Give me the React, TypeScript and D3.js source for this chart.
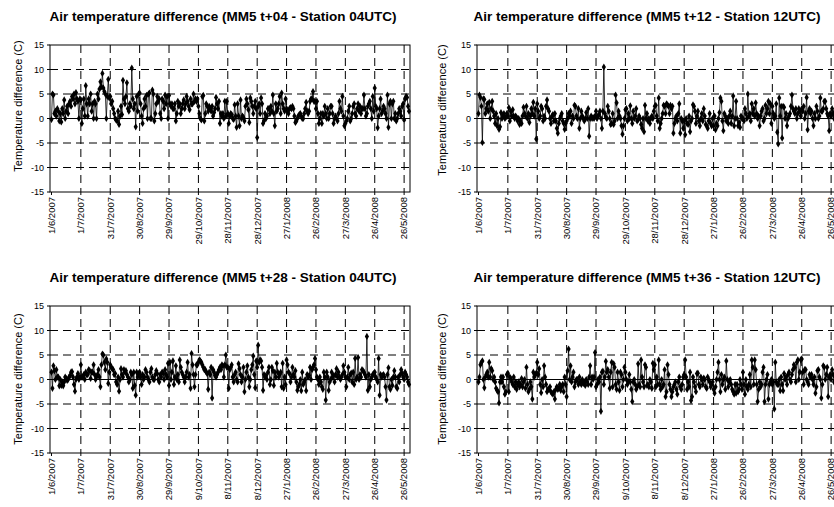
import React from "react";
import * as d3 from "d3";

// ---------- data (daily differences, degrees C) ----------
const seriesT04: number[] = [
  -0.2, 5, 4.8, 1, 1.5, 0.5, 2, 1.5, -0.5, 1, -0.7, 2, 1, 3.8, 0, 1.5, 2.5, 1, 3, 3.5, 2.5, 4.5, 4, 5, 3, 5.3, 4, 3.5, 0, 4,
  3.8, -1, 2, 4, 0.5, 6.7, 3, 0.5, 4, 3, 5, 1.5, 3, 0, 3.5, 3, 0, 5, 4, 6, 7.5, 6.5, 9.2, 6.2, 5.5, 5, 0, 4.5, 8, 4.2,
  4.5, 3, 3.5, 2, 1, 0, -0.3, -0.5, 1.5, -1.2, 0.5, 2.5, 0.8, 7.8, 4, 3, 4.5, 7.3, 2, 1.5, 3, 2.5, 10.3, 4, 2, 3, -1.7, 4.5, 1.5, 5,
  5.2, 3, 0.5, -1, 2, 4, 2.5, 4.7, 0, 5, 5.2, 0, 0, 5.8, 5, -0.5, 1, 3, 4.5, 3.5, 4, 1, 0, 4, 3.5, 2, 4.8, 3, 4.5, 0,
  4.7, 3, 2.5, 3, 2, 2, 3, -0.5, 1, 3.5, 2.5, 3, 1, 2, 3, 3.8, 2, 3, 4.5, 3.5, 2.5, 1.8, 4, 3, 3, 5, 3.5, 4, 3.5, 4,
  2.5, 1, 0, -0.3, 4.5, 4.7, -0.5, 1, 3, 2.5, 1.5, 2.5, 2, 1.5, 2.5, 0.5, 1.2, 2, 4.3, 3, 2, 3.5, -1, 1, 0.5, 1, 0, 3.5, 0.5, 3.5,
  1, -1, 0.5, 1, 0.8, 0, -0.2, 2.8, 0.5, -1.8, 3, 0.5, -1.5, 3.8, 0, 0.5, 0.2, -0.5, 2.5, 4, 3, 1.8, -0.8, 4.2, 3.5, 2.5, 1, 2.5, 3.5, 2,
  -3.9, 2.5, 3, 1, 4.2, 3, -1, -0.5, 1, 0, 0.5, 2, 2, 1, 2.5, 1.5, 4.8, 1, -1.5, 3, 1.5, 2, 3, 4.5, 1, 5.2, 3, 2, 1.5, 4,
  2, 1.5, 1, 2, 2.2, 2, 2.5, 2, 0.5, -0.8, -0.5, 0, 0.5, 0.8, 1, 0.5, 0, 0, 1, 2, 3.3, 1.5, 1, 1.5, 3.5, 4, 4, 5.5, 3.5, 3.5,
  2, 3.5, 1, -1, 0, 1, -1, 1, 0.5, 2.5, 1, 0, 2, 0, 1, 2.5, 2.5, 1, -1, 0, 0.5, 0, -0.5, 1, 3.5, 2, 1.5, 4.5, 0.5, -1.5,
  -1, -0.5, 0, 1.5, 2.5, -0.5, 0, 1, 2.5, 3, 1, 0.5, 2, 3, 1.5, 2.5, 1, 2, 2, 4.8, 2, 0.5, 1, 2.5, 3, 3.5, 2, 0, 4.5, 1.5,
  6.2, 2.5, 2, -1.9, 0.5, 2, 4, 1, 1.5, 2.5, 2, 1, 0, 4.8, -1.8, 3, 3.5, 0, 3, 3.5, 0, 1, -0.5, 0, 1, 2, 1.5, 0.5, 2.5, 3, -0.3, 4, 4.5, 4.3, 2.5, 1.5,
];

const seriesT12: number[] = [
  1, 4.8, 4.3, 2.5, -4.9, 4, 3.9, 1, 2, 3, 1.5, 3.3, 0, 2, 3.5, 1.5, 0.5, -1, 1, -1.5, 0, -2.2, -1.7, 1.2, 0, 0.5, 1, 0, 0.3, 1,
  0.5, 2.2, -0.5, 1.5, 0.5, 1.8, 0.5, 0, 0.5, 0.2, -0.5, 0, -1.2, -0.5, -1, 0.5, 2.3, 1, 0.5, 2.5, 0, 1, -0.8, 0.5, 2, 1, 3.3, 0.5, 2, -4.2,
  3, 1.5, 0, 0.5, 2.5, 2, -0.5, 0.5, 0, 2.5, 3.8, 2, 1.5, 0, -1, 0.5, 0.8, -0.5, 1, -0.5, -2, -3, -1, 0, 0.5, 1, -0.5, -1, -2.2, -1,
  -0.5, 0, 1, 0.5, 1.5, -1, 0.5, 0, 2.7, 2.5, 0.5, 0, 2, -2, 0, 1.5, 0.5, 0, -0.5, 0, 1.2, 0, 2, -3.6, 0, 0.5, 0, 0.2, 0, 0.5,
  1.5, 0, 0.5, 0.8, 1.5, 0, -2, 1.5, 10.5, 1, 0.3, 0, 2.5, 1.5, 0, -1.2, -1, 1, -1.2, -0.5, 4.8, 3.2, 0, 1.5, 0.5, 0, -1.5, -3.2, -1.5, 0,
  1.8, 2, -0.5, 1, 0, 2.6, 0, -1, 1.5, 0, 0.5, 2, -0.5, -0.2, 0.5, 0, -1.2, -2, 0, -2.7, 2.7, 0, 1, -0.5, 0, -1, 0, 0.5, 0, 1.5,
  2.5, 2.7, 0.5, -0.5, 4.2, -2, -1, 0, 1, 2.7, 2.5, 1, 3, 2.8, 2.5, 1, 2.7, 2, 2.5, -3, -1, 0, 0.5, -0.5, 1, 3, -3, 0, -0.5, -2,
  -0.5, -3.3, 0, -1, -1.2, 0.5, -2.7, -0.5, 0, 2.8, 2.5, 1.5, -1, 0.5, 1.5, -0.5, -1.5, 0, 1, -0.5, 2, 0.5, -1.2, -1.5, -2, -0.5, 1, -1, -1.5, 0,
  -1.5, 0.5, -2.3, -1, -1.5, 0, 1.2, 4.2, 3.5, -0.5, -2.5, 1, 0.5, -0.5, 0, -1, 0.5, 1.5, -1, 0.5, 4.6, -1.5, 0, 3.5, 0, -1.5, -0.8, -1.8, 0.5, 0,
  0, -0.5, 2, 1, 0, 5, 0.5, 1, -0.5, 3, 1, 2, 0.5, 3.2, 1, 0, 0.5, -1.5, 0.5, 1.5, 2, -0.5, 0, 2.7, 1, 2, 3.5, 1, 3, -1,
  2.5, 1, 0, 0.5, 3, -2.8, -5.2, 4.2, 0.5, 2.5, -4, 2.5, 2.3, 0, 1, -1.5, 0, 0.5, 1, 2.5, 4.8, 2, 1.5, 1, 2, 0, 1, 2, 1.5, 0.5,
  2, 1.5, 2.5, 0, 1, 4.3, -2.3, 1.5, 2, 1, 1.5, 0, -1.5, 1, 0, 2.5, 1.5, 0, 0.5, 4.2, 1.5, 1.5, 2, 3.5, 3.5, 2, 1, 0.5, -2.5, 1, 0.5, 2, 1, 0, 1.5, 0.5,
];

const seriesT28: number[] = [
  1.5, -1.8, 2.8, 1.8, 0, 2, 0.5, 0.5, -1.3, 0, -1.2, -0.5, -1.3, -0.5, 0.5, 0.2, -0.2, 0, 0.5, 0.8, 1.5, 1.6, 0.5, -1, -2.4, 0, 0.5, 1.2, 0, 0.5,
  3, 0.5, 0.5, 1, 0, 1.5, 1, 1, 2, 1.8, 0.2, 1.5, 1.5, 3, 1, 0, 0.5, 1, 2, 0.5, -1.5, 3, 5.2, 5, 3.5, 2, 4.2, 3.5, -0.8, 1.5,
  3, 2.5, 2.2, 2, 1, 1.2, -0.5, -1, 0.5, -2.4, 0, 2.2, 1, 0.5, 2, 1.5, 1.8, 1, 0.5, -0.5, 0, 1.5, 1, -1.8, 1.5, -1.2, -3.2, 1.5, 0.5, 1.2,
  1.5, 0.5, -1, 1, 0, 0.5, 2, 1.5, 0.5, 0, -0.5, 1.5, 2.2, 0.5, 0, 0, 1, 1.8, 1.2, 0, -0.5, 1, 0.5, 1.5, 1.3, 0, 2, 1, 0.5, 3.3,
  -1.2, 3.5, 0, 1.5, 3.8, -1, 0.5, 2.8, 0, 1, -0.5, 4, 2.5, 1.5, 1, 0.5, -0.5, 0.5, 1.5, 3.5, 0.5, 1, -1.8, 5.3, 3, 1, -1.5, 1, 3, 3,
  3.5, 4, 3.8, 3.5, 3, 2.5, 2, 2, 1.5, 1.2, -2, 1.5, 1, 2.5, -3.8, 2, 1.5, 0.8, 0.5, 1, 1.5, 2, 2.5, 2, 3, 2.8, 0.5, 3, 5, 2.5,
  2.5, -1.8, 2, 2.5, 3, 0.5, -0.5, 1, 1.5, 0, -0.5, 3.2, 2.2, 1, -0.5, 0.5, 2.5, -2.5, 0, 1.5, 2.8, 0.5, -1.5, 0, 2, 3, 4.8, 1, -1.7, 3.8,
  2.5, 7, 3.5, 4, 3.8, 2.5, -2.2, 1, 0.5, 0.8, 0, 1.5, 2.5, -1, 0, 2.5, 1.8, -1.2, 1.5, 0.5, 3.3, 1.5, 0.5, 1, 1.5, -1.5, 3.3, -1.8, 0.5, -1,
  4, 3, 1.5, 1.2, -0.5, 0.5, 2.5, 1, 0.5, 1.8, -0.5, -2.2, -1.5, -1, 0, -2.3, 1.5, -1, -0.5, 0, -2.3, 1, 0.5, 0.8, 2.5, 0, 2, 2.5, 3, 4.3,
  2, 0.5, 0, -1, 0.5, -0.5, -1.5, -2, 1.5, 0.5, -4.2, 1.5, 0.5, -2.2, -0.5, 0, 1.5, 0.5, 0.8, -0.5, 1, 2.2, 0.5, 1.5, 0.5, 0, 0.5, 1, 2.8, 1.5,
  0.5, -1.5, 0.5, 2.5, 0, 1, 1.3, -0.5, 1.5, -1, 4.3, 0, 0.5, 4.5, 0, 1, 0.5, 2, 1.8, 1.5, 1, 0.5, 8.8, -2.2, 1, -1.5, 0, 0.5, 1, 1.2,
  1.5, 0.5, 0, -0.5, 4.3, -3.2, 1, 0.5, 0.8, 1, 0.5, -1.5, -4.2, 1, 2.4, -1.5, -2, 0, -1.2, 0.5, 1.8, 0.5, -1.5, -1.8, 0.5, -0.5, 1, 2, 1.2, 0.5, 0, 1.5, 1, 0.5, -0.5, -1,
];

const seriesT36: number[] = [
  -0.5, 0.5, 3, 3.5, 3.8, 0, -1.7, 0.5, 1, 1.5, 0.5, 3.5, 0.5, 2.2, 1.8, 0, 0.5, -0.5, -1.8, -2.2, -2.5, -4.8, -0.5, 0.5, -0.5, 0.5, -1.5, -3, -2.5, 1,
  1.3, -2.5, 0.5, 0.2, -0.5, -1, 0.5, -1.5, -0.5, -2, -1, -0.5, -1.5, -1, 0.2, -1.5, -0.5, 0, -1.8, 2.5, -1, -2.5, -2, -0.5, -1.5, -4, 1.5, 0.5, 1, 1.3,
  3.5, 1, 2.2, -1, -2.7, 0, -1.5, 2.8, 0.5, -1, -2.5, -2, -2, -1.5, -2.5, -2.8, -3, -2.5, -4, -2, -1.5, -2, -1.8, -1, -2.2, -1.5, -1, -2.5, 0.5, -1,
  -3.5, 1.8, 6.2, 0, 2.8, -0.5, 0.5, 1.5, -1.5, -0.5, 0, 0, -1, 0.5, -0.5, -1, 0, -0.8, -0.5, -1.2, 0, -0.5, -1, 0.5, 2.8, -1, 0.5, 0, 0.5, 5.5,
  -1.5, -1, 0, -0.5, 0.5, -6.5, 1.5, 1.7, -1, 0.5, 3.7, 1.5, 2, 0.5, -1.8, 1.5, 3.5, -1.5, 3.2, 2.5, -1, -2, 1.5, -0.5, -2.2, 1.5, 1, -1.5, 0, 2.5,
  1.5, 0, -1, -0.5, 1, -0.5, -2, -4.5, -0.5, 0, -1, -2, -1.5, 3.2, -1, -1.5, 4, 0.5, -0.5, -1.5, 3, 2.5, -1.2, -1, -1.5, 0, -0.5, -1.8, 3.3, 2,
  3, -1.5, 0.5, -1, 4, -1, -2, 0, -1.5, -1, 2, -3.5, -2.5, 3, 1, -1, -2, -3.5, -2.5, -1.5, -1, -0.5, -2, -3, -0.5, 0.5, -1.5, -2, -1, 0.5,
  1, 4, 0.5, -2, -0.5, -1.5, 1.5, -4.3, -3.5, 0.5, -0.5, -1.5, -2.5, 1.2, 1.3, -1, -1.5, 0.5, 0, -1, 0.3, 0, -1.5, -1.8, 0.5, 0, -0.5, -1.5, -1, -0.5,
  -2, -2.8, -1.5, 0, 1.5, 3.5, 0, -2.5, 1, -1, 0, 0.5, -2, 3.8, 0, -1.5, -0.5, 0, -1, -2, -2.5, -3, -1, -2.8, -1, -2.5, -2, 0, -1, -2,
  1.5, -1, -3, 0, -1.5, -2, -1, 1, -1.5, 4, 2.5, -1, 4, 2, -1, -4.5, -2, -0.5, -1.5, -1, 1.5, 2.5, -4.5, -1, 0, 1, -4, -1, -0.5, 0,
  -1, -0.5, -6, 3.5, -0.5, -1, -1, 0, -2.3, 0.5, -1, -2.3, 1.2, 0, 0.5, -1, 1, 1.5, 0, -0.5, 1, 2, 3, 2.5, -0.5, 3.5, 4, 0, 1.5, 4,
  4.2, 1.5, -1, 2, 2, 0, -0.5, -1, 1, 0.5, 1, 0, -1, 0.5, -2.8, -1.5, 1.8, 2, 0.5, 0, -3.8, -1, 2.8, 2.5, 0, 1, 2.5, -3.5, 0.5, 1, 0, 2, 1, -0.5, 0.5, 0,
];

// category labels shown every 30 categories
const tickLabelsTop: string[] = [
  "1/6/2007", "1/7/2007", "31/7/2007", "30/8/2007", "29/9/2007", "29/10/2007", "28/11/2007",
  "28/12/2007", "27/1/2008", "26/2/2008", "27/3/2008", "26/4/2008", "26/5/2008",
];
const tickLabelsBottom: string[] = [
  "1/6/2007", "1/7/2007", "31/7/2007", "30/8/2007", "29/9/2007", "9/10/2007", "8/11/2007",
  "8/12/2007", "27/1/2008", "26/2/2008", "27/3/2008", "26/4/2008", "26/5/2008",
];
const yTicks: number[] = [-15, -10, -5, 0, 5, 10, 15];
const titles: string[] = [
  "Air temperature difference (MM5 t+04 - Station 04UTC)",
  "Air temperature difference (MM5 t+12 - Station 12UTC)",
  "Air temperature difference (MM5 t+28 - Station 04UTC)",
  "Air temperature difference (MM5 t+36 - Station 12UTC)",
];
const TICK_STEP = 30;

const FONT = "Arial, 'Liberation Sans', Helvetica, sans-serif";

type PanelProps = {
  data: number[];
  title: string;
  labels: string[];
  left: number;
  top: number;
  titleX: number;
  titleY: number;
  axisTitleX: number;
  axisTitleY: number;
};

const W = 360;
const H = 147;

function Panel({ data, title, labels, left, top, titleX, titleY, axisTitleX, axisTitleY }: PanelProps) {
  const x = d3.scaleLinear().domain([-1.5, data.length]).range([0, W]);
  const y = d3.scaleLinear().domain([-15, 15]).range([H, 0]);
  const line = d3
    .line<number>()
    .x((_, i) => x(i))
    .y((d) => y(d));
  const diamond = d3.symbol().type(d3.symbolDiamond).size(15)() as string;
  const tickIdx = labels.map((_, i) => i * TICK_STEP);
  return (
    <g>
      <text
        x={titleX}
        y={titleY}
        textAnchor="middle"
        fontFamily={FONT}
        fontWeight="bold"
        fontSize={13.5}
      >
        {title}
      </text>
      <text
        transform={`translate(${axisTitleX},${axisTitleY}) rotate(-90)`}
        textAnchor="middle"
        fontFamily={FONT}
        fontSize={11}
      >
        Temperature difference (C)
      </text>
      <g transform={`translate(${left},${top})`}>
        {/* horizontal dashed grid */}
        {yTicks
          .filter((t) => t !== 0 && Math.abs(t) !== 15)
          .map((t) => (
            <line key={"h" + t} x1={0} x2={W} y1={y(t)} y2={y(t)} stroke="#000" strokeWidth={1} strokeDasharray="8,5" />
          ))}
        {/* vertical dashed grid */}
        {tickIdx.slice(1).map((t) => (
          <line key={"v" + t} x1={x(t)} x2={x(t)} y1={0} y2={H} stroke="#000" strokeWidth={1} strokeDasharray="8,5" />
        ))}
        {/* zero line */}
        <line x1={0} x2={W} y1={y(0)} y2={y(0)} stroke="#000" strokeWidth={1} />
        {/* frame */}
        <rect x={0} y={0} width={W} height={H} fill="none" stroke="#000" strokeWidth={1} />
        {/* y ticks */}
        {yTicks.map((t) => (
          <g key={"yt" + t}>
            <line x1={-3} x2={0} y1={y(t)} y2={y(t)} stroke="#000" />
            <text x={-6} y={y(t)} dy="0.35em" textAnchor="end" fontFamily={FONT} fontSize={9}>
              {t}
            </text>
          </g>
        ))}
        {/* x ticks */}
        {tickIdx.map((t, i) => (
          <g key={"xt" + t}>
            <line x1={x(t)} x2={x(t)} y1={H} y2={H + 3} stroke="#000" />
            <text
              transform={`translate(${x(t)},${H + 5}) rotate(-90)`}
              dy="0.35em"
              textAnchor="end"
              fontFamily={FONT}
              fontSize={9.5}
            >
              {labels[i]}
            </text>
          </g>
        ))}
        {/* series */}
        <path d={line(data) || ""} fill="none" stroke="#000" strokeWidth={0.8} />
        {data.map((d, i) => (
          <path key={i} d={diamond} transform={`translate(${x(i)},${y(d)})`} fill="#000" />
        ))}
      </g>
    </g>
  );
}

export default function App() {
  return (
    <svg
      width={834}
      height={507}
      style={{ position: "absolute", left: 0, top: 0, background: "#fff", overflow: "hidden" }}
    >
      <rect width={834} height={507} fill="#fff" />
      <Panel data={seriesT04} title={titles[0]} labels={tickLabelsTop} left={50} top={45} titleX={223} titleY={21} axisTitleX={22} axisTitleY={106} />
      <Panel data={seriesT12} title={titles[1]} labels={tickLabelsTop} left={477} top={45} titleX={647} titleY={21} axisTitleX={446} axisTitleY={110} />
      <Panel data={seriesT28} title={titles[2]} labels={tickLabelsBottom} left={50} top={306} titleX={223} titleY={282} axisTitleX={22} axisTitleY={379} />
      <Panel data={seriesT36} title={titles[3]} labels={tickLabelsBottom} left={477} top={306} titleX={647} titleY={282} axisTitleX={446} axisTitleY={379} />
    </svg>
  );
}
